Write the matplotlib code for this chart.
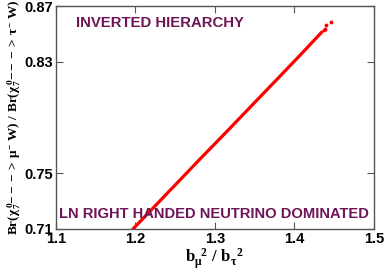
import matplotlib
matplotlib.use("Agg")
import matplotlib.pyplot as plt

# Dense band of points (ratio b_mu^2/b_tau^2 vs branching ratio ratio)
x_line = [1.1968, 1.2182, 1.2496, 1.2810, 1.3124, 1.3439, 1.3753, 1.4067, 1.4344]
y_line = [0.7100, 0.7227, 0.7414, 0.7601, 0.7785, 0.7972, 0.8158, 0.8345, 0.8513]
# Sparse points at the upper end
x_pts = [1.4370, 1.4381, 1.4394, 1.4457]
y_pts = [0.8528, 0.8538, 0.8564, 0.8585]

xticks = [1.1, 1.2, 1.3, 1.4, 1.5]
yticks = [0.71, 0.75, 0.83, 0.87]

plt.rcParams['mathtext.fontset'] = 'custom'
plt.rcParams['mathtext.rm'] = 'Liberation Serif:bold'
plt.rcParams['mathtext.it'] = 'Liberation Serif:bold'
plt.rcParams['mathtext.bf'] = 'Liberation Serif:bold'

W, H = 384, 273
fig = plt.figure(figsize=(W/100, H/100), dpi=100)
ax = fig.add_axes([56/W, 1-229/H, (374-56)/W, (229-6)/H])

ax.plot(x_line, y_line, color='#ff0000', lw=2.3, solid_capstyle='round', zorder=2)
ax.plot(x_pts, y_pts, 'o', color='#ff0000', ms=2.8, mec='none', zorder=2)

ax.set_xlim(1.1, 1.5)
ax.set_ylim(0.71, 0.87)
ax.set_xticks(xticks)
ax.set_yticks(yticks)
ax.set_xticklabels([f"{v:.1f}" for v in xticks])
ax.set_yticklabels([f"{v:.2f}" for v in yticks])
ax.tick_params(direction='in', length=5, width=0.8, color='#555555',
               top=True, right=True, labelsize=10.5, pad=2)
for lab in ax.get_xticklabels() + ax.get_yticklabels():
    lab.set_fontfamily('Liberation Sans')
    lab.set_fontweight('bold')
for s in ax.spines.values():
    s.set_color('#555555')
    s.set_linewidth(1.0)

tc = '#6e1458'
fig.text(76/W, 1-23/H, 'INVERTED HIERARCHY', color=tc,
         fontsize=10.7, fontweight='bold', family='Liberation Sans', va='center', ha='left')
fig.text(214/W, 1-214/H, 'LN RIGHT HANDED NEUTRINO DOMINATED', color=tc,
         fontsize=10.6, fontweight='bold', family='Liberation Sans', va='center', ha='center')

ax.set_xlabel(r'$\mathbf{b_{\mu}^{\ \ 2}\ /\ b_{\tau}^{\ \ 2}}$', fontsize=12, labelpad=1)
ax.set_ylabel(r'$\mathbf{Br(}\chi^{\,0}_{\,7}\mathbf{--->}\,\mu^{-}\ \mathbf{W)\ /\ Br(}\chi^{\,0}_{\,7}\mathbf{--->}\,\tau^{-}\ \mathbf{W)}$',
              fontsize=9.5, labelpad=1)

fig.savefig('out.png', dpi=100)
